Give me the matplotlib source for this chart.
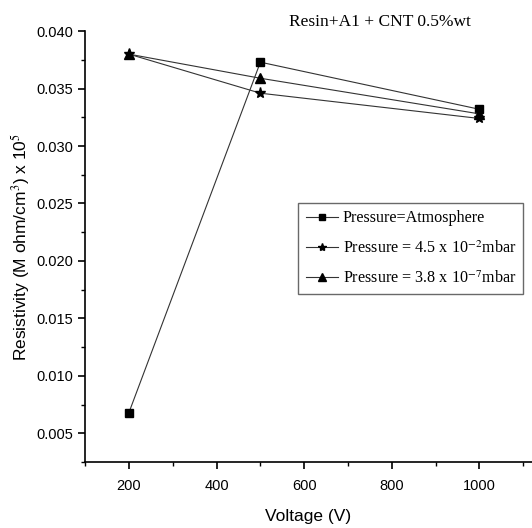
import matplotlib.pyplot as plt
from matplotlib.ticker import MultipleLocator

plt.rcParams["mathtext.fontset"] = "stix"

voltage = [200, 500, 1000]
atmosphere = [0.0068, 0.0373, 0.0332]
p_45e2 = [0.0380, 0.0346, 0.0324]
p_38e7 = [0.0380, 0.0359, 0.0328]

labels = [
    "Pressure=Atmosphere",
    "Pressure = 4.5 x 10$^{-2}$mbar",
    "Pressure = 3.8 x 10$^{-7}$mbar",
]

fig = plt.figure(figsize=(5.32, 5.28), dpi=100)
ax = fig.add_axes([0.160, 0.125, 0.84, 0.816])

line_kw = dict(color="#333333", lw=0.8, markerfacecolor="black",
               markeredgecolor="black")
ax.plot(voltage, atmosphere, marker="s", ms=6, label=labels[0], **line_kw)
ax.plot(voltage, p_45e2, marker="*", ms=8, label=labels[1], **line_kw)
ax.plot(voltage, p_38e7, marker="^", ms=7, label=labels[2], **line_kw)

ax.set_xlim(100, 1120)
ax.set_ylim(0.0025, 0.040)
ax.xaxis.set_major_locator(MultipleLocator(200))
ax.xaxis.set_minor_locator(MultipleLocator(100))
ax.yaxis.set_major_locator(MultipleLocator(0.005))
ax.yaxis.set_minor_locator(MultipleLocator(0.0025))
ax.yaxis.set_major_formatter(plt.FormatStrFormatter("%.3f"))

for side in ["top", "right"]:
    ax.spines[side].set_visible(False)
for side in ["left", "bottom"]:
    ax.spines[side].set_linewidth(1.2)

ax.tick_params(which="major", direction="out", length=5, width=1.2,
               labelsize=10.5, labelfontfamily="Liberation Sans")
ax.tick_params(axis="x", which="major", pad=7)
ax.tick_params(which="minor", direction="out", length=3, width=1.0)

ax.set_xlabel("Voltage (V)", fontsize=12.5, family="Liberation Sans",
              labelpad=12)
ax.set_ylabel("Resistivity (M ohm/cm$^{3}$) x 10$^{5}$", fontsize=12.5,
              family="Liberation Sans", labelpad=3)

ax.text(0.66, 1.021, "Resin+A1 + CNT 0.5%wt", transform=ax.transAxes,
        ha="center", va="center", fontsize=12.5, family="Liberation Serif")

leg = ax.legend(loc="upper left", bbox_to_anchor=(0.477, 0.601),
                prop={"family": "Liberation Serif", "size": 11.6},
                frameon=True, fancybox=False, edgecolor="#444444",
                handlelength=2.0, handletextpad=0.3, borderpad=0.45,
                labelspacing=0.85, borderaxespad=0, markerscale=0.75)
leg.get_frame().set_linewidth(1.0)

fig.savefig("out.png", dpi=100)
